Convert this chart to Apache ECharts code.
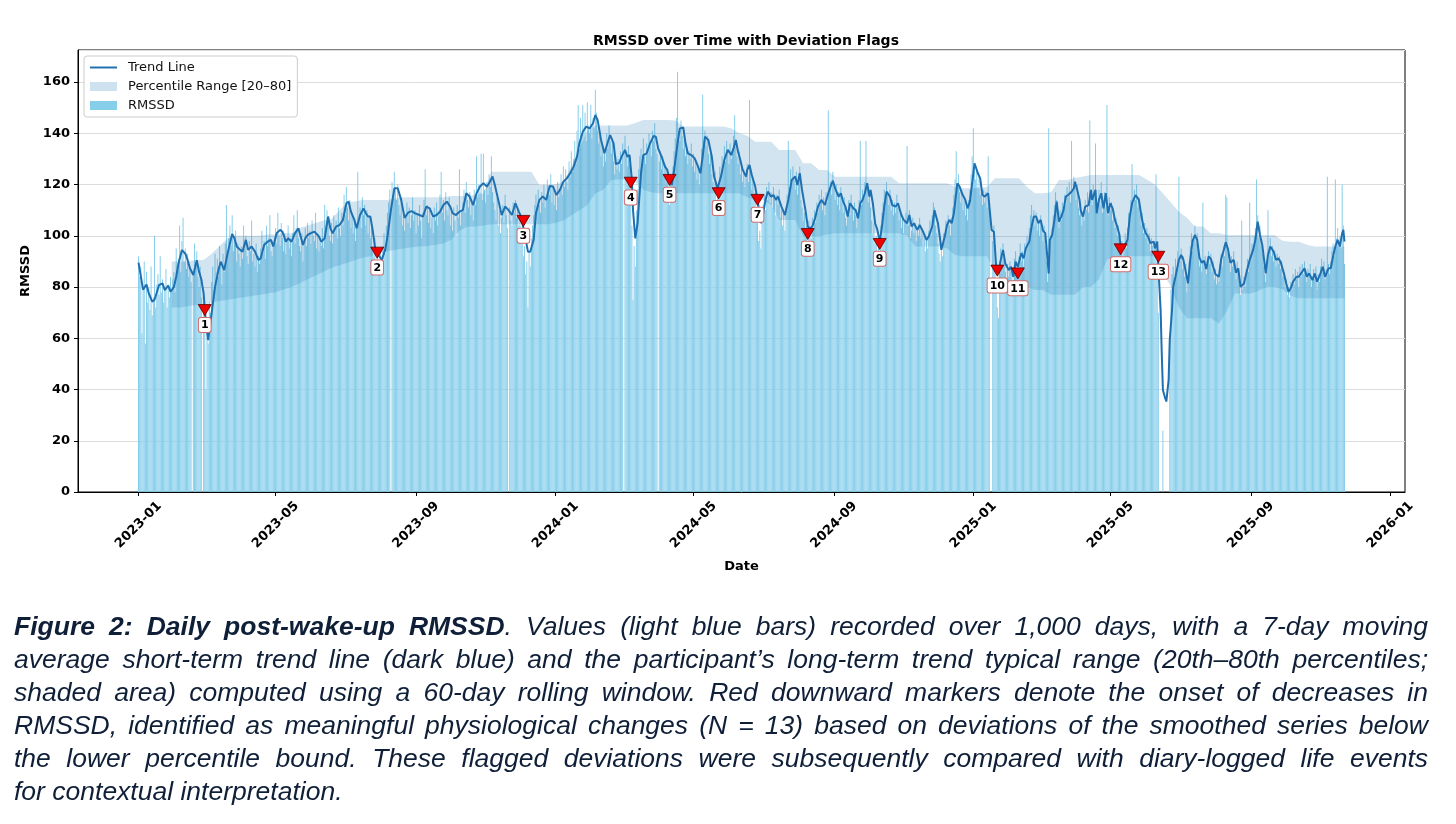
<!DOCTYPE html>
<html>
<head>
<meta charset="utf-8">
<script src="https://cdn.jsdelivr.net/npm/echarts@6.0.0/dist/echarts.min.js"></script>
<style>
  html, body { margin: 0; padding: 0; background: #fff; }
  #wrap { position: relative; width: 1456px; height: 824px; overflow: hidden; }
  #chart { position: absolute; left: 0; top: 0; width: 1456px; height: 824px; }
  #caption { position: absolute; left: 14px; top: 610px; width: 1414px;
    font-family: "Liberation Sans", Arial, sans-serif; font-style: italic; font-size: 26.5px;
    color: #0f1f38; }
  #caption div { height: 33px; line-height: 33px; white-space: nowrap;
    text-align: justify; text-align-last: justify; }
  #caption div.last { text-align-last: left; }
</style>
</head>
<body>
<div id="wrap">
  <div id="chart"></div>
  <div id="caption">
    <div><b>Figure 2: Daily post-wake-up RMSSD</b>. Values (light blue bars) recorded over 1,000 days, with a 7-day moving</div>
    <div>average short-term trend line (dark blue) and the participant’s long-term trend typical range (20th–80th percentiles;</div>
    <div>shaded area) computed using a 60-day rolling window. Red downward markers denote the onset of decreases in</div>
    <div>RMSSD, identified as meaningful physiological changes (N = 13) based on deviations of the smoothed series below</div>
    <div>the lower percentile bound. These flagged deviations were subsequently compared with diary-logged life events</div>
    <div class="last">for contextual interpretation.</div>
  </div>
</div>
<script>
// daily RMSSD, one value per day from 2023-01-01 (null = no reading)
var rmssd = [
  92,84,88,62,79,90,58,86,74,80,71,88,69,76,100,72,81,85,77,92,78,83,74,79,87,72,81,76,84,79,
  83,86,78,95,88,91,104,86,98,107,90,95,87,93,84,88,82,null,86,97,89,94,84,80,88,76,null,79,68,40,
  62,58,74,70,82,88,79,93,86,91,84,96,88,81,93,86,97,112,92,99,104,96,108,94,99,102,90,97,93,88,
  96,91,104,95,100,92,89,98,94,106,90,93,88,97,86,92,89,95,102,93,98,91,104,96,99,108,94,92,97,100,
  103,97,109,100,96,105,99,94,101,93,98,104,95,99,92,101,108,97,103,110,99,96,94,101,90,98,103,96,105,99,
  102,97,106,100,98,109,95,101,94,99,96,103,95,112,104,110,106,100,98,105,97,108,101,106,99,111,103,100,109,104,
  116,108,119,111,106,114,103,109,101,105,98,104,125,106,111,103,115,108,112,104,110,101,107,99,103,96,92,99,88,94,
  90,86,95,89,96,101,93,104,109,113,118,null,121,116,125,119,114,120,112,108,115,104,110,102,107,113,105,111,103,108,
  115,106,110,101,108,104,112,106,99,109,114,126,108,112,105,110,103,107,101,111,106,113,104,108,116,125,109,114,106,117,
  110,108,115,104,109,102,111,106,100,112,107,126,104,110,113,118,109,121,114,111,117,108,113,106,118,112,131,115,120,117,
  132,114,132,118,113,121,116,124,119,131,117,113,110,106,115,104,110,101,107,112,105,116,108,103,null,111,106,104,113,109,
  114,107,111,104,109,101,98,92,96,85,90,72,94,88,99,104,108,112,116,110,118,112,109,117,113,120,111,115,122,118,
  116,124,113,119,112,117,110,121,115,118,124,116,127,119,126,121,118,129,123,133,125,130,137,128,141,151,134,146,139,151,
  141,148,137,152,143,140,151,138,146,142,157,148,141,136,139,131,135,127,133,129,140,134,143,137,132,138,129,124,131,126,
  130,125,133,128,136,null,139,131,127,135,128,117,104,75,96,88,110,118,126,131,134,127,138,131,128,136,132,140,135,131,
  141,137,144,134,132,null,129,133,126,131,124,128,121,126,118,112,120,115,127,133,138,146,164,141,137,145,139,134,140,131,
  135,128,133,130,136,127,132,125,129,122,127,120,126,134,155,137,141,135,139,132,128,134,124,121,118,125,114,120,116,127,
  124,131,128,135,129,137,132,128,136,130,133,139,147,135,131,128,133,124,127,121,126,119,124,128,121,153,125,118,122,115,
  117,111,105,98,102,95,108,112,116,110,119,114,121,113,117,111,119,114,108,116,112,118,107,110,104,109,102,111,116,137,
  119,126,120,127,122,118,125,116,123,127,114,111,106,109,100,104,97,106,101,99,107,103,110,105,113,109,116,112,118,110,
  115,108,117,113,149,118,121,116,125,119,114,120,112,117,110,119,113,109,115,107,104,110,114,108,116,111,106,113,108,103,
  109,114,137,112,118,115,121,137,119,113,117,111,106,101,105,97,100,94,99,93,104,109,113,118,114,121,116,112,118,110,
  114,108,113,109,116,111,106,110,103,108,101,106,109,135,104,110,99,102,107,101,105,98,103,100,107,99,102,96,101,94,
  99,95,102,106,100,108,113,111,104,101,97,93,90,96,92,101,98,106,102,108,104,100,107,111,116,122,133,119,124,117,
  113,118,110,115,108,112,106,114,118,124,131,142,127,122,126,119,123,116,120,112,118,113,117,111,131,114,null,null,98,104,
  86,79,72,68,90,95,88,97,91,86,82,89,84,90,86,80,78,91,94,86,83,92,97,90,94,88,97,93,100,96,
  103,108,112,105,110,104,109,102,106,100,108,103,98,104,96,90,82,142,95,100,103,108,112,117,114,108,103,110,106,113,
  109,116,112,119,115,121,113,137,117,123,119,114,120,111,108,113,104,109,106,114,110,117,109,145,118,112,120,116,136,111,
  113,118,112,121,109,113,117,111,151,108,115,110,113,106,110,103,107,100,104,96,93,98,92,97,101,95,103,109,106,114,
  128,113,118,114,120,111,115,108,104,109,101,105,99,103,97,101,94,99,96,92,98,124,90,70,null,null,null,24,null,null,
  null,null,null,62,79,85,88,82,91,86,94,123,90,95,87,92,84,89,78,83,90,96,101,94,99,104,97,101,93,88,
  91,86,113,88,92,85,90,94,89,93,86,90,83,87,81,85,82,89,93,88,96,92,116,115,93,90,86,92,88,94,
  87,83,90,85,81,77,106,79,84,80,87,91,86,113,92,97,94,100,103,122,108,99,104,96,93,88,85,82,89,110,
  94,99,92,96,90,94,88,93,89,92,87,90,84,86,80,83,77,80,76,82,79,85,81,87,83,86,80,88,84,89,
  85,90,86,82,87,84,89,80,84,87,83,88,79,85,82,88,91,86,90,83,87,123,89,85,90,94,97,92,122,99,103,96,100,95,120,104,89
];

// 7-day trend line, read at these day offsets from 2023-01-01
var trendDay = [
  0,4,7,9,12,14,18,21,23,26,
  28,31,33,35,38,41,43,45,48,51,
  53,55,57,59,61,64,67,70,72,75,
  78,82,84,86,89,91,94,96,99,102,
  105,107,110,113,116,118,121,124,126,129,
  131,134,137,140,142,144,146,148,151,154,
  158,160,163,166,168,170,173,176,179,182,
  184,186,189,191,194,197,199,201,203,205,
  207,209,213,216,218,221,224,227,230,233,
  236,239,242,246,249,252,255,258,261,264,
  267,270,273,275,278,281,284,287,290,293,
  296,299,302,305,307,310,312,315,318,321,
  324,327,330,333,335,338,341,343,346,348,
  351,354,357,360,363,366,369,372,375,378,
  381,384,386,389,392,395,398,400,402,405,
  408,411,413,416,418,421,423,426,428,430,
  432,433,435,437,440,442,445,448,451,453,
  455,458,461,463,465,467,469,472,474,477,
  479,481,484,487,490,492,494,496,499,502,
  504,507,510,513,516,519,521,523,525,527,
  529,532,533,535,537,540,542,545,547,549,
  551,554,556,558,560,563,566,569,572,575,
  577,579,581,584,586,588,590,592,595,598,
  601,604,606,608,610,613,615,617,619,621,
  623,626,628,630,632,634,636,638,640,641,
  643,645,647,649,651,653,655,658,660,663,
  665,668,670,673,675,677,679,682,684,687,
  690,692,695,697,700,702,703,706,708,710,
  712,714,717,719,721,724,726,728,730,732,
  735,737,739,741,744,745,747,749,751,753,
  755,757,759,762,764,766,768,770,773,775,
  777,780,782,784,786,788,790,792,794,795,
  797,798,800,802,804,806,808,810,812,814,
  817,819,820,822,824,825,827,829,832,834,
  835,838,839,841,843,845,847,849,851,853,
  855,857,859,860,863,866,868,870,873,876,
  878,880,882,884,886,889,890,892,893,895,
  896,897,899,900,902,903,905,906,908,911,
  913,915,917,919,921,923,925,927,929,931,
  933,935,937,939,941,943,946,948,951,952,
  954,956,959,961,963,965,968,970,973,976,
  978,980,982,984,986,987,989,991,994,996,
  998,1000,1003,1005,1007,1009,1011,1014,1016,1018,
  1021,1023,1025,1028,1030,1032,1035,1037,1039,1042,
  1044,1046,1048,1050,1052,1054,1055,1056
];
var trendVal = [
  89.5,79,81,77.5,74.3,75,80.8,81.4,78.8,80.5,
  78.2,80,84,89.2,94.4,93,90.5,87.3,84.7,90.5,
  86,83,77.5,66,59.3,69.7,80.1,86.6,89.9,86.6,
  93.2,100.7,99,95.8,94.5,93.8,98.4,94.5,95.8,93.8,
  90.6,91.2,96.4,97.7,98.4,95.8,101,102.3,101.6,97.7,
  99,97.7,101,102.9,99.7,96.4,99,100.3,101,101.6,
  99.7,97.7,99,107.5,102.9,101,103.6,104.2,106.2,112.7,
  113.3,109.4,106.2,102.9,108.1,110.7,108.8,107.5,107.5,102.3,
  95.8,93.2,90.6,94.5,99.7,110,118.5,118.5,114,107,
  109,109.6,108.8,108.1,107.5,111.4,110.7,107.5,108.1,109.4,
  112,113.3,111.4,108.8,108.1,109.4,110,116.6,115.3,112,
  116.6,119.2,120.5,119.2,120.5,123.1,119.8,114,108.1,111.4,
  110,108.1,112.7,109.4,107.5,101,93.8,93.8,98.4,108.8,
  114,115.3,114,119.4,119.2,115.9,117.9,121.1,122.4,124.4,
  127,130.9,136.1,140.6,142.6,141.9,143.9,147.1,145.2,137.4,
  132.2,136.7,139.3,136.1,128,128.5,130.9,133.5,130.9,131.5,
  121.8,110,99,104.9,124.4,131.5,132.2,136.1,138.9,138.7,
  134.1,130.9,127,125.7,122,119.8,125.7,136.1,141.9,142.3,
  136.1,132.2,131.5,130.2,127,124.4,130.9,138.7,137.4,130.9,
  123.1,118.5,123.1,129.6,133.5,131.5,134.1,137.4,132.8,129.6,
  125.7,123.1,125.7,127.6,123.7,119.2,114,104.9,108.8,114,
  117.2,115.3,115.9,114,115.3,111.4,108.1,114,121.8,123.1,
  119.8,124.4,117.9,110,103.6,102.9,103.6,106.2,111.4,114,
  112,116.5,119.2,121.5,118.5,115.3,116.6,113.3,111.4,107.5,
  112.7,110.7,110,106.8,112.7,114,116.6,120.5,115.3,117.9,
  112.7,104.9,102.3,97.7,103.6,111.4,117.2,115.3,112,111.4,
  112.7,108.1,106.2,104.9,108.1,103.6,104.9,102.3,104.2,101.6,
  98.4,99.7,103.6,110,104.9,98.4,94.5,99.7,104.2,106.2,
  104.9,108.8,120.5,119.2,116.6,114,110.7,113.3,120.5,128.3,
  124.4,122.4,115.9,115.3,116.6,115.9,102.3,101.6,88,85.3,
  90.6,94.5,89.2,86.6,87.9,84,89.9,87.9,93.2,91.2,
  95.1,97.7,103.6,107.5,107.5,104.9,106.2,102,101,95.8,
  85.3,98.4,100.3,106.2,113.3,105.5,107.5,110,115.3,115.9,
  117.2,118.5,121.1,117.9,114,110,107.5,111.4,112,117.9,
  114,117.9,108.8,114,116.6,110.7,116.6,108.8,112.7,110.7,
  106.2,103.6,100.3,95.1,95.8,98.4,107.5,112.7,115.9,114,
  108.1,103.6,101,99.7,97.1,97.7,95.1,97.7,87.9,71,
  54.1,39.8,36.6,35.3,43.7,59.3,71,80.1,84,90.6,
  92.5,90.6,86,81.4,91,98,100.3,98.5,91.5,89.5,
  90.2,87,91.9,91,88,85,84,90.8,95.5,97.5,
  94.8,89.5,90.6,85.6,87.3,80.1,81.4,85.3,90.6,94.5,
  98.4,105.5,100.3,96.4,89.2,85.3,92.5,95.8,93.8,90.6,
  91.2,89.9,85.3,81.4,78.2,79.5,82.1,84,84,85.3,
  87.3,84,85.3,82.7,85.3,82.1,85.3,87.9,84,87.3,
  87.3,91.9,95.8,98.4,95.8,101,102.3,97.7
];

// 20th / 80th percentile band (60-day rolling), weekly readings
var bandDay = [
  29,36,43,50,57,64,71,78,85,92,
  99,106,113,120,127,134,141,148,155,162,
  169,176,183,190,197,204,211,218,225,232,
  239,246,253,260,267,274,281,288,295,302,
  309,316,323,330,337,344,351,358,365,372,
  379,386,393,400,407,414,421,428,435,442,
  449,456,463,470,477,484,491,498,505,512,
  519,526,533,540,547,554,561,568,575,582,
  589,596,603,610,617,624,631,638,645,652,
  659,666,673,680,687,694,701,708,715,722,
  729,736,743,750,757,764,771,778,785,792,
  799,806,813,820,827,834,841,848,855,862,
  869,876,883,890,897,904,911,918,925,932,
  939,946,953,960,967,974,981,988,995,1002,
  1009,1016,1023,1030,1037,1044,1051,1056
];
var bandHigh = [
  90,90,90,90.5,90.5,93,96,99,100,100,
  100,100,100.5,100.5,101,101,103,104,105,106,
  106.5,110,113,113.5,114,114,114,114,114.5,115,
  115,115,115,115,115,115.5,115.5,115.5,116,116.5,
  125,125,125,125,125,125,119.8,119.8,120,121,
  127,134,141,143,143,143,143,143,144,145.2,
  145.2,145.2,145.2,145,142.6,142.6,142.6,142.6,142.6,142.6,
  142,140,139,136.7,136.7,136.7,133.5,133.5,133.5,128.3,
  128.3,125.7,125.7,123,123,123,123,123,123,123,
  123,120.5,120.5,120.5,120.5,120.5,120.5,120.5,119,118.5,
  118.5,118.5,119,122.4,122.4,122.4,122.4,119,116.6,116.6,
  117,121.8,121.8,122.5,123.1,123.7,123.7,123.7,123.7,123.7,
  123.7,123.7,122,120,116.6,113,109.4,107,103.6,103.6,
  101,101,100.3,100.3,100.3,100.3,100.3,100.3,100.3,98,
  97.7,97.7,96.5,95.8,95.8,95.8,95.8,95.8
];
var bandLow = [
  72,72,72.5,73,73,74,74.5,75,75.5,76,
  76.5,77,77.5,78,79,80,81.5,83,84.5,86,
  87.5,88.5,89.5,90.5,91.5,92,93,94,94.5,95,
  95.5,95.8,96,96.5,97,98.5,102,103.5,103.6,104,
  104.5,104.5,104.5,104.5,104.5,104.5,104.5,104.5,105,106,
  108,110,112,116.6,118,121.8,122,122,121,118,
  117,116.6,116.6,116.6,116.6,116.6,116.6,116.6,116.6,116.6,
  116.6,116.6,115,114,114,112,106.2,106.2,106.2,99.7,
  99.7,99.7,100.5,101,101,101,101,101,101,101,
  101,101,100,95.8,95.8,95.8,95.8,95,92.5,92,
  92,92,92,86,81.4,81.4,81.4,80,78.8,78.8,
  77,77,77,77,80,80,83,90.6,92,92,
  92,92,92,92,86,80,72,67.8,67.8,67.8,
  67.8,65.8,70.6,77.5,77.5,77.5,78.5,80,80,79,
  76.5,75.6,75.6,75.6,75.6,75.6,75.6,75.6
];

// deviation flags (onset day, trend value there)
var flagDay = [58, 209, 337, 431, 465, 508, 542, 586, 649, 752, 770, 860, 893];
var flagVal = [71, 93.4, 105.8, 120.7, 121.8, 116.6, 114, 100.7, 96.8, 86.4, 85.3, 94.7, 91.8];

// x tick labels (month starts)
var xTickLabels = ['2023-01','2023-05','2023-09','2024-01','2024-05','2024-09','2025-01','2025-05','2025-09','2026-01'];

var DAY = 86400000;
var T0 = Date.UTC(2023, 0, 1);
function ts(d) { return T0 + d * DAY; }
function pad(n) { return n < 10 ? '0' + n : '' + n; }

var tickValues = xTickLabels.map(function (s) {
  var p = s.split('-');
  return Date.UTC(+p[0], +p[1] - 1, 1);
});

var barData = rmssd.map(function (v, i) { return [ts(i), v == null ? '-' : v]; });
var trendData = trendDay.map(function (d, i) { return [ts(d), trendVal[i]]; });
var bandData = bandDay.map(function (d, i) { return [ts(d), bandLow[i], bandHigh[i]]; });
var flagData = flagDay.map(function (d, i) { return [ts(d), flagVal[i]]; });

var BAND_FILL = 'rgba(31,119,180,0.2)';
var FONT = 'DejaVu Sans';
var chart = echarts.init(document.getElementById('chart'), null, { renderer: 'canvas' });

// the band is one polygon: upper edge left->right, lower edge back
function renderBand(params, api) {
  if (params.dataIndex !== 0) return;
  var pts = [];
  for (var i = 0; i < bandData.length; i++) {
    pts.push(api.coord([bandData[i][0], bandData[i][2]]));
  }
  for (var j = bandData.length - 1; j >= 0; j--) {
    pts.push(api.coord([bandData[j][0], bandData[j][1]]));
  }
  return { type: 'polygon', shape: { points: pts }, style: { fill: BAND_FILL } };
}

var option = {
  animation: false,
  backgroundColor: '#fff',
  textStyle: { fontFamily: FONT },
  title: {
    text: 'RMSSD over Time with Deviation Flags',
    left: 741, top: 29, textAlign: 'center',
    textStyle: { fontFamily: FONT, fontSize: 14, fontWeight: 'bold', color: '#000' }
  },
  legend: {
    left: 84, top: 56, orient: 'vertical',
    backgroundColor: '#fff', borderColor: '#cccccc', borderWidth: 1, borderRadius: 3,
    padding: [5, 6, 5, 6], itemGap: 6, itemWidth: 27, itemHeight: 9,
    textStyle: { fontFamily: FONT, fontSize: 13, color: '#111', padding: [0, 0, 0, 6] },
    data: [
      { name: 'Trend Line', icon: 'path://M0,0H30V2.2H0Z', itemStyle: { color: '#1f70b0' } },
      { name: 'Percentile Range [20–80]', icon: 'rect', itemStyle: { color: 'rgba(31,119,180,0.22)' } },
      { name: 'RMSSD', icon: 'rect', itemStyle: { color: '#87CEEB' } }
    ]
  },
  grid: {
    left: 78, right: 51, top: 50, bottom: 332,
    show: true, borderColor: '#000', borderWidth: 1, backgroundColor: 'transparent'
  },
  xAxis: {
    type: 'value',
    min: Date.UTC(2022, 10, 9),
    max: Date.UTC(2026, 0, 14),
    name: 'Date', nameLocation: 'middle', nameGap: 68,
    nameTextStyle: { fontFamily: FONT, fontSize: 13, fontWeight: 'bold', color: '#000' },
    axisLine: { show: true, lineStyle: { color: '#000', width: 1 } },
    axisTick: { show: true, length: 4, lineStyle: { color: '#000' }, customValues: tickValues },
    axisLabel: {
      rotate: 45, margin: 33, align: 'center', verticalAlign: 'middle',
      fontFamily: FONT, fontSize: 13, fontWeight: 'bold', color: '#000',
      customValues: tickValues,
      formatter: function (v) {
        var d = new Date(v);
        return d.getUTCFullYear() + '-' + pad(d.getUTCMonth() + 1);
      }
    },
    splitLine: { show: false }
  },
  yAxis: {
    type: 'value', min: 0, max: 172.5, interval: 20,
    name: 'RMSSD', nameLocation: 'middle', nameGap: 46,
    nameTextStyle: { fontFamily: FONT, fontSize: 13, fontWeight: 'bold', color: '#000' },
    axisLine: { show: true, lineStyle: { color: '#000', width: 1 } },
    axisTick: { show: true, length: 4, lineStyle: { color: '#000' } },
    axisLabel: {
      fontFamily: FONT, fontSize: 13, fontWeight: 'bold', color: '#000', margin: 8,
      showMaxLabel: false,
      formatter: function (v) { return v % 20 === 0 ? String(v) : ''; }
    },
    splitLine: { show: true, lineStyle: { color: '#dcdcdc', width: 1 } }
  },
  series: [
    {
      name: 'RMSSD', type: 'bar', data: barData, barWidth: 0.9,
      itemStyle: { color: '#87CEEB', opacity: 1 },
      z: 1, silent: true
    },
    {
      name: 'Percentile Range [20–80]', type: 'custom', data: bandData,
      encode: { x: 0, y: [1, 2] },
      renderItem: renderBand,
      itemStyle: { color: BAND_FILL },
      z: 3, silent: true
    },
    {
      name: 'Trend Line', type: 'line', data: trendData, symbol: 'none',
      lineStyle: { color: '#1f70b0', width: 2 }, itemStyle: { color: '#1f70b0' },
      z: 4, silent: true
    },
    {
      name: 'Flags', type: 'scatter', data: flagData,
      symbol: 'triangle', symbolRotate: 180, symbolSize: [13, 11],
      itemStyle: { color: '#ee0000', borderColor: '#5a0000', borderWidth: 0.8, opacity: 1 },
      label: {
        show: true, position: 'bottom', distance: 2,
        formatter: function (p) { return String(p.dataIndex + 1); },
        fontFamily: FONT, fontSize: 11, fontWeight: 'bold', color: '#000',
        backgroundColor: '#fff', borderColor: '#d46a6a', borderWidth: 1, borderRadius: 2,
        padding: [2, 2, 1, 2]
      },
      z: 6, silent: true
    }
  ]
};

chart.setOption(option);
</script>
</body>
</html>
